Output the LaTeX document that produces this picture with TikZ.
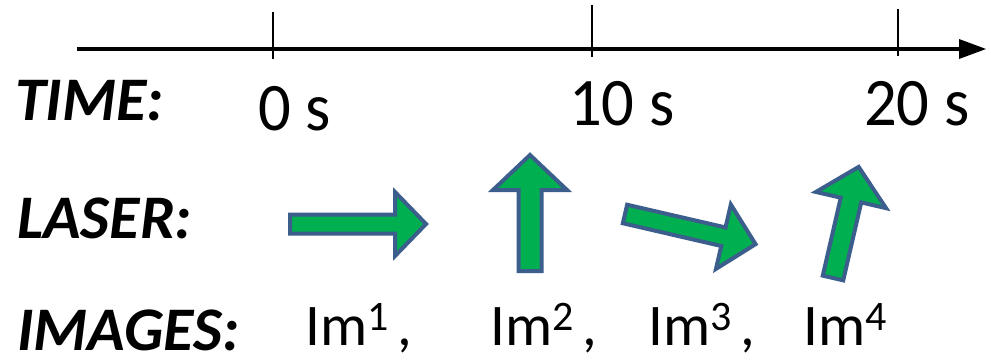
\documentclass[tikz,border=0pt]{standalone}
\usepackage{fontspec}
\setmainfont{Carlito}
\definecolor{arrfill}{HTML}{00B050}
\definecolor{arrline}{HTML}{3B5E8C}
\newcommand\blockarr[7]{%
  \draw[blockarrow, shift={(#1,#2)}, rotate=#3]
    (0,-#6) -- ({#4-#5},-#6) -- ({#4-#5},-#7) -- (#4,0) --
    ({#4-#5},#7) -- ({#4-#5},#6) -- (0,#6) -- cycle;}
\newcommand\imsup[1]{\raisebox{15pt}{\fontsize{42}{42}\selectfont #1}}
\begin{document}
\begin{tikzpicture}[x=1pt,y=1pt,
  blockarrow/.style={fill=arrfill, draw=arrline, line width=4pt, line join=miter},
  rowlabel/.style={anchor=base west, inner sep=0pt, font=\fontsize{62}{66}\selectfont\bfseries\itshape},
  timelabel/.style={anchor=base west, inner sep=0pt, xscale=0.95, transform shape, font=\fontsize{68}{72}\selectfont},
  imlabel/.style={anchor=base west, inner sep=0pt, font=\fontsize{59}{63}\selectfont},
  tick/.style={line width=1.5pt}]
\useasboundingbox (0,0) rectangle (991,360);
% time axis
\coordinate (axstart) at (77,311);
\coordinate (axend) at (962,311);
\draw[line width=4.5pt] (axstart) -- (axend);
\fill (959,321) -- (986,311) -- (959,301) -- cycle;
\coordinate (t0a) at (273,348); \coordinate (t0b) at (273,301);
\coordinate (t1a) at (592,355); \coordinate (t1b) at (592,303);
\coordinate (t2a) at (898,351); \coordinate (t2b) at (898,304);
\draw[tick] (t0a) -- (t0b);
\draw[tick] (t1a) -- (t1b);
\draw[tick] (t2a) -- (t2b);
% row labels
\node[rowlabel] (time) at (15,240) {TIME:};
\node[rowlabel] (laser) at (17,122) {LASER:};
\node[rowlabel] (images) at (17,10) {IMAGES:};
% time values
\node[timelabel] (s0) at (258,230) {0 s};
\node[timelabel] (s10) at (569,235) {10 s};
\node[timelabel] (s20) at (864,235) {20 s};
% laser arrows
\blockarr{290}{136}{0}{136}{31}{9.5}{32}
\blockarr{530}{89}{90}{116}{35}{11.5}{37}
\blockarr{625}{146}{-13}{134}{33}{9.5}{33}
\blockarr{833}{82}{77}{114}{34}{10.5}{36}
% images
\node[imlabel] (im1) at (305,15) {Im\imsup{1}\hspace{9pt},};
\node[imlabel] (im2) at (490,15) {Im\imsup{2}\hspace{9pt},};
\node[imlabel] (im3) at (648,15) {Im\imsup{3}\hspace{9pt},};
\node[imlabel] (im4) at (803,15) {Im\imsup{4}};
\end{tikzpicture}
\end{document}
